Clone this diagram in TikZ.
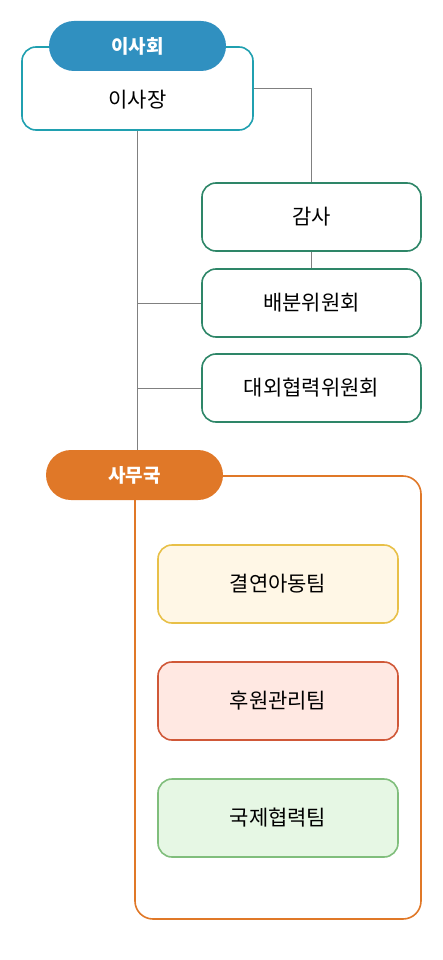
\documentclass[tikz,border=0pt]{standalone}
\usepackage{fontspec}
\setmainfont{Noto Sans CJK KR}
\usepackage{xcolor}
\usetikzlibrary{positioning}
\definecolor{boardblue}{RGB}{48, 144, 192}
\definecolor{chairteal}{RGB}{32, 160, 176}
\definecolor{cmtgreen}{RGB}{46, 134, 104}
\definecolor{officeorange}{RGB}{224, 120, 40}
\definecolor{linkgray}{RGB}{128, 128, 128}
\definecolor{teamyellow}{RGB}{232, 192, 72}
\definecolor{teamyellowbg}{RGB}{255, 247, 230}
\definecolor{teamred}{RGB}{208, 88, 56}
\definecolor{teamredbg}{RGB}{255, 232, 226}
\definecolor{teamgreen}{RGB}{128, 190, 124}
\definecolor{teamgreenbg}{RGB}{230, 247, 228}

\begin{document}
\begin{tikzpicture}[
    x=1pt, y=-1pt,
    link/.style={draw=linkgray, line width=0.9pt},
    pill/.style={rounded corners=25pt, minimum width=177pt, minimum height=50pt,
        text=white, font=\fontsize{19}{22}\selectfont\bfseries, inner sep=0pt},
    cmtbox/.style={draw=cmtgreen, fill=white, line width=1.6pt, rounded corners=14pt,
        minimum width=219pt, minimum height=68pt, font=\fontsize{21}{24}\selectfont},
    teambox/.style={line width=1.6pt, rounded corners=14pt,
        minimum width=240pt, minimum height=78pt, font=\fontsize{21}{24}\selectfont}
]
    \useasboundingbox (0, 0) rectangle (442, 960);

    % Board
    \node[draw=chairteal, fill=white, line width=1.6pt, rounded corners=14pt,
        minimum width=231pt, minimum height=83pt] (chair) at (137.5, 88.5) {};
    \node[font=\fontsize{21}{24}\selectfont] (chairlbl) at (137.5, 100) {이사장};
    \node[pill, fill=boardblue] (board) at (137.5, 46) {이사회};

    % Committees
    \node[cmtbox] (audit) at (311.5, 217) {감사};
    \node[cmtbox] (dist) at (311.5, 303) {배분위원회};
    \node[cmtbox] (ext) at (311.5, 388) {대외협력위원회};

    % Office
    \draw[officeorange, line width=1.6pt, rounded corners=18pt]
        (135, 476) rectangle (421, 919);
    \node[pill, fill=officeorange] (office) at (134.5, 475) {사무국};

    % Teams
    \node[teambox, draw=teamyellow, fill=teamyellowbg] (sponsor) at (278, 584) {결연아동팀};
    \node[teambox, draw=teamred, fill=teamredbg] (donor) at (278, 701) {후원관리팀};
    \node[teambox, draw=teamgreen, fill=teamgreenbg] (intl) at (278, 818) {국제협력팀};

    % Connections
    \draw[link] (chair.east) -| (audit.north);
    \draw[link] (audit.south) -- (dist.north);
    \draw[link] (chair.south) -- (chair.south |- office.north);
    \draw[link] (chair.south |- dist.west) -- (dist.west);
    \draw[link] (chair.south |- ext.west) -- (ext.west);
\end{tikzpicture}
\end{document}
